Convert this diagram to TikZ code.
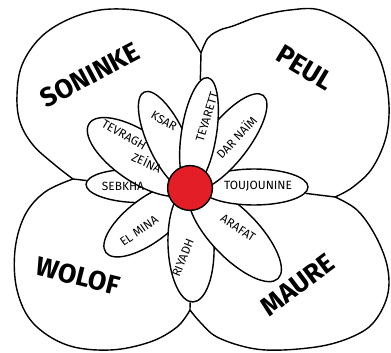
\documentclass[tikz,border=0pt]{standalone}
\usepackage{fontspec}
\setmainfont{Fira Sans}
\usetikzlibrary{shapes.geometric}
\definecolor{FlRed}{HTML}{E41E26}
\tikzset{lobe/.style={draw=black,line width=1pt}, petal/.style={ellipse,draw=black,line width=1pt,fill=white,inner sep=0pt}, core/.style={circle,draw=black,line width=1pt,fill=FlRed,minimum size=11.2mm,inner sep=0pt}, town/.style={font=\fontsize{8.5}{9}\selectfont,inner sep=0pt}, tribe/.style={font=\bfseries\fontsize{19}{19}\selectfont,inner sep=0pt}}

\begin{document}
\begin{tikzpicture}[x=0.25mm,y=-0.25mm]
\useasboundingbox (0,0) rectangle (391,353);
% petals of the nine quarters
\foreach \nm/\px/\py/\ang/\len/\wid in {sebkha/135/186/-2/98/33, elmina/149/220/37/108/44, riyadh/191/245/-88/114/46, arafat/235/234/-46/124/48, toujounine/254/187/0/108/36, darnaim/227/142/52/118/42, tevragh/139/157/146/120/50, ksar/167/141/115/108/38, teyarett/199/133/81/112/35}{\node[petal,rotate=\ang,minimum width=\len*0.25mm,minimum height=\wid*0.25mm] (p-\nm) at (\px,\py) {};}
% junctions of the four lobes
\coordinate (jt) at (201,53);
\coordinate (jl) at (73,179);
\coordinate (jr) at (335,197);
\coordinate (jb) at (190,310);
\draw[lobe] plot[smooth,tension=0.6] coordinates {(jt) (193,40) (185,30) (165,17) (135,10) (100,10) (67,20) (40,38) (22,65) (17,95) (20,122) (33,145) (55,165) (jl)};
\draw[lobe] plot[smooth,tension=0.6] coordinates {(jt) (208,38) (220,30) (233,26) (260,16) (290,10) (320,10) (353,27) (377,53) (388,93) (387,133) (373,167) (353,187) (jr)};
\draw[lobe] plot[smooth,tension=0.6] coordinates {(jr) (357,210) (375,235) (387,265) (388,293) (377,318) (360,333) (327,345) (283,350) (250,348) (217,337) (200,322) (jb)};
\draw[lobe] plot[smooth,tension=0.6] coordinates {(jb) (177,327) (150,342) (110,350) (67,345) (33,323) (17,290) (15,250) (25,215) (45,192) (jl)};
\foreach \j/\p in {jt/teyarett,jl/sebkha,jr/toujounine,jb/riyadh}{\draw[lobe] (\j)--(p-\p);}
\node[core] (heart) at (190,188) {};
% names
\node[town] (l-sebkha) at (123,186) {SEBKHA};
\node[town,rotate=-30] (l-tevragh) at (124,135) {TEVRAGH};
\node[town,rotate=-25] (l-zeina) at (147,162) {ZEİNA};
\node[town,rotate=-30] (l-ksar) at (164,121) {KSAR};
\node[town,rotate=73] (l-teyarett) at (207,117) {TEYARETT};
\node[town,rotate=47] (l-darnaim) at (236,137) {DAR NAÏM};
\node[town] (l-toujounine) at (258,186) {TOUJOUNINE};
\node[town,rotate=-33] (l-arafat) at (238,228) {ARAFAT};
\node[town,rotate=68] (l-riyadh) at (183,258) {RIYADH};
\node[town,rotate=35] (l-elmina) at (139,231) {EL MINA};
\node[tribe,rotate=28] (t-soninke) at (90,75) {SONINKE};
\node[tribe,rotate=-31] (t-peul) at (305,68) {PEUL};
\node[tribe,rotate=-14] (t-wolof) at (78,276) {WOLOF};
\node[tribe,rotate=37] (t-maure) at (298,285) {MAURE};
\end{tikzpicture}
\end{document}
